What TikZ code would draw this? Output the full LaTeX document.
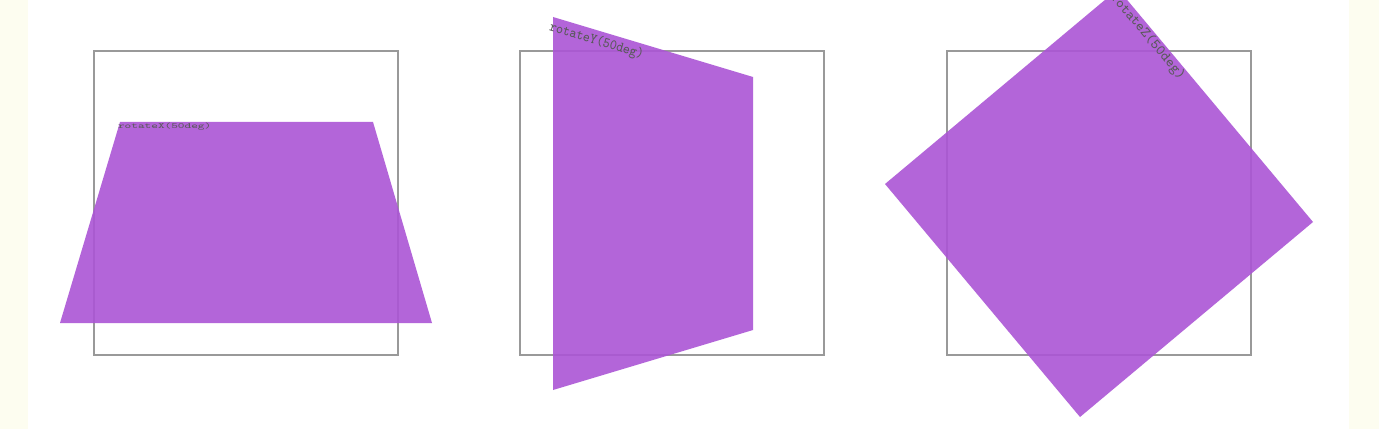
\documentclass[tikz,border=0pt]{standalone}
\definecolor{ivory}{RGB}{253,253,240}
\definecolor{orchid}{RGB}{171,85,213}

\begin{document}
\begin{tikzpicture}[x=0.02cm, y=-0.02cm,
  frame/.style={draw=black!40, line width=1pt},
  plane/.style={fill=orchid, fill opacity=0.9},
  tag/.style={font=\ttfamily\fontsize{8.3}{9}\selectfont, text=black!65,
              inner sep=0.5pt, anchor=north west},
]
  % page with ivory margins
  \fill[ivory] (0,0) rectangle (1379,429);
  \fill[white] (28,0) rectangle (1349,429);
  \clip (0,0) rectangle (1379,429);
  % untransformed frames
  \draw[frame] (94,51) rectangle (398,355);
  \draw[frame] (520,51) rectangle (824,355);
  \draw[frame] (947,51) rectangle (1251,355);
  % rotateX
  \fill[plane] (120,122) -- (373,122) -- (432,323) -- (60,323) -- cycle;
  \node[tag, xscale=0.86, yscale=0.55] (labx) at (117,122) {rotateX(50deg)};
  % rotateY
  \fill[plane] (553,17) -- (753,77) -- (753,330) -- (553,390) -- cycle;
  \node[tag, rotate=-16.7, xscale=0.9] (laby) at (551,19) {rotateY(50deg)};
  % rotateZ
  \fill[plane] (1118,-11) -- (1313,222) -- (1080,417) -- (885,184) -- cycle;
  \node[tag, rotate=-50] (labz) at (1118,-11) {rotateZ(50deg)};
\end{tikzpicture}
\end{document}
